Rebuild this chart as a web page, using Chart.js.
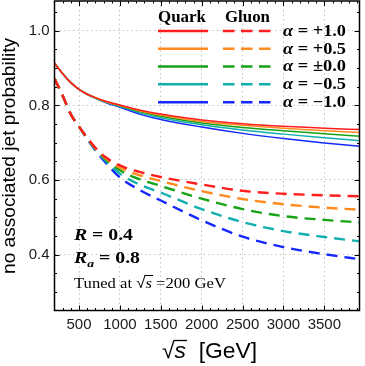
<!DOCTYPE html>
<html><head><meta charset="utf-8">
<script src="https://cdn.jsdelivr.net/npm/chart.js@4.4.0/dist/chart.umd.min.js"></script>
<style>html,body{margin:0;padding:0;background:#fff}#wrap{width:365px;height:366px;position:relative}</style>
</head><body><div id="wrap"><canvas id="c" width="365" height="366"></canvas></div>
<script>
// ---- data ----
const sqrtS = [200,300,400,500,600,700,800,1000,1250,1500,2000,2500,3000,3500,3950];
const alphaLabels = ['+1.0','+0.5','±0.0','−0.5','−1.0'];
const quarkRed    = [0.913,0.885,0.861,0.843,0.830,0.821,0.813,0.801,0.787,0.777,0.761,0.751,0.744,0.739,0.735];
const quarkOrange = [0.913,0.885,0.861,0.843,0.830,0.821,0.812,0.800,0.785,0.774,0.757,0.747,0.739,0.732,0.727];
const quarkGreen  = [0.913,0.885,0.861,0.843,0.830,0.820,0.812,0.799,0.783,0.771,0.753,0.741,0.732,0.724,0.717];
const quarkCyan   = [0.913,0.885,0.861,0.843,0.830,0.820,0.811,0.797,0.780,0.767,0.748,0.734,0.723,0.713,0.705];
const quarkBlue   = [0.913,0.885,0.861,0.843,0.830,0.820,0.810,0.795,0.776,0.762,0.742,0.725,0.711,0.699,0.690];
const gluonRed    = [0.872,0.826,0.776,0.743,0.713,0.686,0.665,0.639,0.621,0.608,0.588,0.571,0.563,0.559,0.556];
const gluonOrange = [0.872,0.826,0.776,0.743,0.713,0.685,0.663,0.633,0.612,0.597,0.570,0.549,0.535,0.526,0.520];
const gluonGreen  = [0.872,0.826,0.776,0.743,0.712,0.684,0.660,0.626,0.601,0.584,0.550,0.522,0.503,0.493,0.486];
const gluonCyan   = [0.872,0.826,0.776,0.743,0.711,0.682,0.657,0.617,0.587,0.566,0.522,0.487,0.463,0.447,0.435];
const gluonBlue   = [0.872,0.826,0.776,0.743,0.710,0.680,0.653,0.607,0.572,0.545,0.492,0.448,0.420,0.401,0.387];
const xTickValues = [500,1000,1500,2000,2500,3000,3500];
const yTickValues = [0.4,0.6,0.8,1.0];

const quark = [quarkRed,quarkOrange,quarkGreen,quarkCyan,quarkBlue];
const gluon = [gluonRed,gluonOrange,gluonGreen,gluonCyan,gluonBlue];
const colors = ['#ff1e1e','#ff8a1e','#16a316','#12afaf','#1428ff'];
const DASH = [11,7];

const datasets = [];
for (let i=0;i<5;i++){
  datasets.push({label:'Gluon '+alphaLabels[i], data:sqrtS.map((x,k)=>({x,y:gluon[i][k]})),
    borderColor:colors[i], borderWidth:2.4, borderDash:DASH, pointRadius:0, fill:false,
    cubicInterpolationMode:'monotone', borderCapStyle:'butt'});
}
for (let i=0;i<5;i++){
  datasets.push({label:'Quark '+alphaLabels[i], data:sqrtS.map((x,k)=>({x,y:quark[i][k]})),
    borderColor:colors[i], borderWidth:1.5, pointRadius:0, fill:false,
    cubicInterpolationMode:'monotone'});
}

const SERIF = '"Liberation Serif", "Times New Roman", serif';
const SANS = '"Liberation Sans", Arial, sans-serif';

function drawRich(ctx, segs, x, y, targetW){
  let total = 0;
  const ws = segs.map(s=>{ctx.font = `${s.style||''} ${s.size}px ${s.family||SERIF}`; const w = ctx.measureText(s.t).width; total += w; return w;});
  const sx = targetW ? targetW/total : 1;
  ctx.save();
  ctx.translate(x,y); ctx.scale(sx,1);
  ctx.textAlign='left'; ctx.textBaseline='alphabetic'; ctx.fillStyle='#000';
  let cx = 0;
  segs.forEach((s,i)=>{
    ctx.font = `${s.style||''} ${s.size}px ${s.family||SERIF}`;
    ctx.fillText(s.t, cx, s.dy||0);
    if (s.over){
      ctx.strokeStyle='#000'; ctx.lineWidth=s.overW||1;
      ctx.beginPath(); ctx.moveTo(cx-1, s.over); ctx.lineTo(cx+ws[i]+1, s.over); ctx.stroke();
    }
    cx += ws[i];
  });
  ctx.restore();
}

const decor = {
  id:'decor',
  afterDatasetsDraw(chart){
    const ctx = chart.ctx, a = chart.chartArea, xs = chart.scales.x, ys = chart.scales.y;
    ctx.save();
    ctx.strokeStyle='#000'; ctx.lineWidth=1.5;
    ctx.strokeRect(a.left, a.top, a.right-a.left, a.bottom-a.top);
    ctx.lineWidth=1;
    ctx.beginPath();
    for (let v=300; v<=3900; v+=100){
      const px = Math.round(xs.getPixelForValue(v))+0.5;
      const len = (v%500===0)?5:2.5;
      ctx.moveTo(px,a.bottom); ctx.lineTo(px,a.bottom-len);
      ctx.moveTo(px,a.top); ctx.lineTo(px,a.top+len);
    }
    for (let k=6; k<=21; k++){
      const v = k*0.05;
      const py = Math.round(ys.getPixelForValue(v))+0.5;
      const len = (k%4===0)?5:2.5;
      ctx.moveTo(a.left,py); ctx.lineTo(a.left+len,py);
      ctx.moveTo(a.right,py); ctx.lineTo(a.right-len,py);
    }
    ctx.stroke();

    const qx0=158,qx1=208,gx0=223,gx1=271;
    drawRich(ctx,[{t:'Quark',style:'bold',size:17}],158,21.5,48);
    drawRich(ctx,[{t:'Gluon',style:'bold',size:17}],225,21.5,45);
    const rows=[31,48.7,66.5,84.3,102.2];
    rows.forEach((ry,i)=>{
      ctx.strokeStyle=colors[i]; ctx.lineWidth=2.5; ctx.setLineDash([]);
      ctx.beginPath(); ctx.moveTo(qx0,ry); ctx.lineTo(qx1,ry); ctx.stroke();
      ctx.setLineDash([11.5,6.5]);
      ctx.beginPath(); ctx.moveTo(gx0,ry); ctx.lineTo(gx1,ry); ctx.stroke();
      ctx.setLineDash([]);
      drawRich(ctx,[{t:'α',style:'italic bold',size:16},{t:' = '+alphaLabels[i],style:'bold',size:16}],283,ry+4.8,63);
    });

    drawRich(ctx,[{t:'R',style:'italic bold',size:16},{t:' = 0.4',style:'bold',size:16}],74,240,59);
    drawRich(ctx,[{t:'R',style:'italic bold',size:16},{t:'a',style:'italic bold',size:11,dy:3.5},{t:' = 0.8',style:'bold',size:16}],74,263,66);
    drawRich(ctx,[{t:'Tuned at ',size:15},{t:'√',size:15,family:SANS},{t:'s',style:'italic',size:15,over:-12.5},{t:' =200 GeV',size:15}],74,288,152);

    drawRich(ctx,[{t:'√',size:22,family:SANS},{t:'s',style:'italic',size:22,family:SANS,over:-17.5,overW:1.3},{t:'  [GeV]',size:22,family:SANS}],162,358,95);
    ctx.save();
    ctx.translate(15,156); ctx.rotate(-Math.PI/2);
    ctx.font = `18px ${SANS}`;
    const t='no associated jet probability';
    const w=ctx.measureText(t).width;
    ctx.scale(236/w,1);
    ctx.fillStyle='#000'; ctx.textAlign='center'; ctx.textBaseline='alphabetic';
    ctx.fillText(t,0,0);
    ctx.restore();
    ctx.restore();
  }
};

function zeroPad(s){s.paddingTop=0;s.paddingBottom=0;s.paddingLeft=0;s.paddingRight=0;}

new Chart(document.getElementById('c'),{
  type:'line',
  data:{datasets},
  options:{
    responsive:false, animation:false, devicePixelRatio:1,
    layout:{padding:{top:1,right:5.5,left:0,bottom:0}},
    plugins:{legend:{display:false},tooltip:{enabled:false},title:{display:false}},
    scales:{
      x:{type:'linear',min:200,max:3930,
        afterFit(s){s.height=55.5;zeroPad(s);},
        afterBuildTicks(s){s.ticks=xTickValues.map(v=>({value:v}));},
        grid:{color:'#c4c4c4',lineWidth:1,drawTicks:false},
        border:{display:false,dash:[1.5,3]},
        ticks:{font:{family:'Liberation Sans',size:15},color:'#1a1a1a',padding:5,maxRotation:0,autoSkip:false,
          callback:v=>String(v)}},
      y:{type:'linear',min:0.25,max:1.08,
        afterFit(s){s.width=54.5;zeroPad(s);},
        afterBuildTicks(s){s.ticks=yTickValues.map(v=>({value:v}));},
        grid:{color:'#c4c4c4',lineWidth:1,drawTicks:false},
        border:{display:false,dash:[1.5,3]},
        ticks:{font:{family:'Liberation Sans',size:15},color:'#1a1a1a',padding:5,
          callback:v=>v.toFixed(1)}}
    }
  },
  plugins:[decor]
});
</script></body></html>
